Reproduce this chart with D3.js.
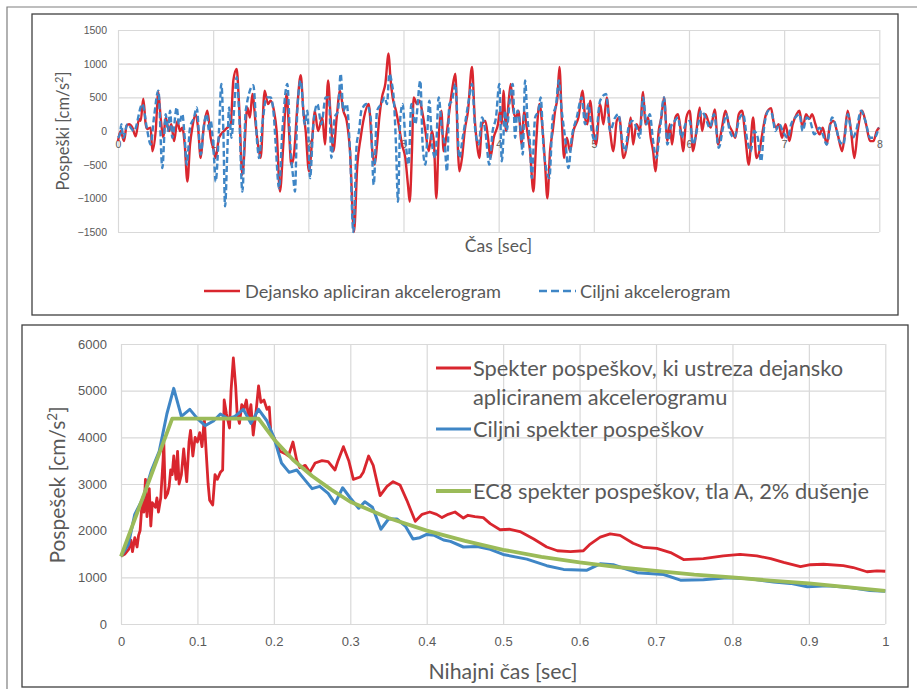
<!DOCTYPE html>
<html>
<head>
<meta charset="utf-8">
<script src="https://d3js.org/d3.v7.min.js"></script>
<style>
  body { margin: 0; background: #fff; }
  svg { display: block; font-family: Lato, "Open Sans", sans-serif; }
  .grid line { stroke: #d9d9d9; stroke-width: 1.2; }
  .grid .domain { display: none; }
  .ticks .domain, .ticks line { display: none; }
  .ticks text { fill: #595959; }
</style>
</head>
<body>
<svg id="chart" width="917" height="689"></svg>
<script>
// time axis / acceleration axis of the upper chart
var timeTicks = [0, 1, 2, 3, 4, 5, 6, 7, 8];
var accTicks = [-1500, -1000, -500, 0, 500, 1000, 1500];

// actually applied accelerogram [t, a] (peaks and troughs)
var actualAcc = [[0,-150],[0.028,0],[0.063,-150],[0.091,80],[0.116,100],[0.151,50],[0.186,-80],[0.221,180],[0.238,150],[0.266,480],[0.291,100],[0.308,30],[0.343,50],[0.361,-300],[0.396,0],[0.424,580],[0.448,200],[0.476,-100],[0.501,200],[0.536,0],[0.560,100],[0.589,-150],[0.624,150],[0.652,0],[0.676,50],[0.701,-200],[0.729,-750],[0.757,-200],[0.781,50],[0.816,250],[0.841,50],[0.869,-400],[0.897,0],[0.939,300],[0.974,-100],[1.009,-300],[1.026,-400],[1.061,-100],[1.114,0],[1.149,50],[1.184,100],[1.212,750],[1.247,920],[1.272,400],[1.307,-650],
  [1.359,350],[1.387,200],[1.412,550],[1.447,100],[1.471,-200],[1.499,-400],[1.541,600],[1.576,400],[1.604,450],[1.639,300],[1.667,0],[1.702,-900],[1.737,-200],[1.772,550],[1.797,0],[1.821,-500],[1.849,-350],[1.884,350],[1.920,830],[1.948,300],[1.972,0],[2.007,-600],[2.042,-100],[2.067,300],[2.102,0],[2.147,200],[2.175,-200],[2.207,750],[2.235,200],[2.263,-300],[2.298,200],[2.333,600],[2.368,300],[2.403,150],[2.438,-300],[2.480,-1500],[2.515,-500],[2.550,-100],[2.585,200],[2.634,400],[2.673,-300],
  [2.697,-500],[2.722,-200],[2.746,200],[2.774,500],[2.809,700],[2.844,1150],[2.862,800],[2.886,500],[2.921,300],[2.949,100],[2.984,-200],[3.019,-400],[3.047,-800],[3.065,-1050],[3.089,-300],[3.107,500],[3.142,400],[3.170,450],[3.195,300],[3.230,0],[3.265,-300],[3.300,0],[3.321,-200],[3.345,-1000],[3.370,-100],[3.398,300],[3.422,-300],[3.457,0],[3.482,300],[3.510,600],[3.545,850],[3.573,-300],[3.587,-600],[3.615,-400],[3.643,0],[3.678,300],[3.720,950],[3.748,200],[3.773,-200],[3.797,-400],[3.825,100],[3.860,150],[3.888,-100],[3.913,-400],[3.948,-100],[3.993,100],
  [4.015,300],[4.033,100],[4.050,600],[4.078,0],[4.103,400],[4.127,700],[4.155,300],[4.183,200],[4.208,300],[4.243,-200],[4.267,300],[4.295,50],[4.330,-300],[4.365,-900],[4.393,-200],[4.428,400],[4.463,0],[4.488,-500],[4.512,-1000],[4.540,-300],[4.568,0],[4.593,300],[4.618,500],[4.639,950],[4.663,200],[4.688,-400],[4.716,-100],[4.751,-300],[4.786,0],[4.838,200],[4.884,600],[4.908,200],[4.933,100],[4.961,450],[4.996,0],[5.024,-200],[5.066,400],[5.101,100],[5.136,500],[5.171,0],[5.206,-300],[5.241,150],[5.269,200],[5.311,-400],
  [5.360,-100],[5.388,200],[5.413,-200],[5.448,100],[5.483,0],[5.518,580],[5.542,100],[5.570,200],[5.598,-100],[5.623,-300],[5.647,-600],[5.682,0],[5.710,200],[5.738,500],[5.773,-150],[5.798,100],[5.822,-200],[5.857,200],[5.885,250],[5.914,0],[5.938,-300],[5.973,200],[6.008,300],[6.043,-300],[6.078,0],[6.113,350],[6.138,0],[6.173,250],[6.201,150],[6.229,50],[6.271,320],[6.306,-200],[6.341,0],[6.383,300],[6.418,100],[6.453,0],[6.488,-100],[6.523,250],[6.558,300],[6.593,-100],[6.628,-500],[6.674,200],[6.709,-400],
  [6.740,-300],[6.775,0],[6.810,250],[6.863,340],[6.887,150],[6.915,50],[6.943,100],[6.978,-100],[7.013,100],[7.055,-150],[7.090,100],[7.132,250],[7.160,300],[7.195,50],[7.230,250],[7.266,180],[7.294,250],[7.329,100],[7.371,-50],[7.406,50],[7.448,-200],[7.483,100],[7.518,150],[7.563,-50],[7.609,-300],[7.633,-100],[7.668,300],[7.703,0],[7.738,-400],[7.773,0],[7.819,300],[7.861,100],[7.903,-150],[7.938,-150],[7.973,0],[8,50]];

// target accelerogram [t, a]
var targetAcc = [[0,-100],[0.020,-50],[0.035,100],[0.056,-100],[0.098,100],[0.168,0],[0.256,400],[0.308,0],[0.343,-200],[0.378,200],[0.424,600],[0.466,-550],[0.501,250],[0.526,0],[0.547,300],[0.571,-100],[0.617,350],[0.641,100],[0.676,250],[0.701,-100],[0.722,-500],[0.757,50],[0.799,200],[0.827,350],[0.869,-350],[0.904,100],[0.932,250],[0.957,0],[0.974,150],[1.009,-400],[1.026,-750],[1.061,0],[1.086,700],[1.107,0],[1.125,-1120],[1.149,-300],[1.167,350],[1.191,-100],[1.219,300],[1.247,800],[1.272,300],[1.307,-900],
  [1.342,300],[1.422,680],[1.464,-200],[1.482,-400],[1.517,100],[1.562,500],[1.604,500],[1.639,200],[1.657,-200],[1.692,-850],[1.727,0],[1.779,700],[1.814,-300],[1.842,-700],[1.860,-900],[1.884,300],[1.920,750],[1.962,100],[1.990,300],[2.018,-700],[2.053,100],[2.095,400],[2.137,100],[2.182,500],[2.217,500],[2.242,-400],[2.277,200],[2.312,300],[2.340,850],[2.368,300],[2.403,400],[2.438,-300],[2.473,-1500],[2.508,-200],[2.533,0],[2.557,300],[2.613,400],[2.655,200],
  [2.687,-800],[2.722,300],[2.767,400],[2.802,500],[2.827,400],[2.851,850],[2.879,700],[2.897,500],[2.921,-200],[2.942,-1050],[2.967,200],[2.991,400],[3.019,-100],[3.054,-500],[3.082,400],[3.124,100],[3.177,750],[3.201,-200],[3.230,-500],[3.272,450],[3.300,-200],[3.335,-400],[3.370,500],[3.405,0],[3.433,-200],[3.457,-600],[3.482,400],[3.510,450],[3.545,700],[3.587,-400],[3.622,-100],[3.657,200],[3.685,450],[3.720,700],[3.755,0],[3.790,-200],[3.825,200],[3.860,0],[3.902,-500],[3.937,0],[3.972,200],[4.007,700],
  [4.033,-450],[4.068,300],[4.085,0],[4.113,400],[4.148,700],[4.173,-100],[4.197,300],[4.232,0],[4.253,-350],[4.278,750],[4.302,200],[4.330,-200],[4.348,-700],[4.383,200],[4.418,300],[4.442,500],[4.470,-200],[4.505,-600],[4.533,-700],[4.568,200],[4.604,400],[4.632,750],[4.663,300],[4.698,-100],[4.733,-550],[4.768,-100],[4.821,200],[4.873,500],[4.908,100],[4.943,400],[4.978,0],[5.013,-150],[5.066,450],[5.129,550],[5.171,0],[5.224,200],[5.259,250],[5.294,-100],[5.329,-300],[5.364,50],
  [5.402,150],[5.448,50],[5.483,-100],[5.518,500],[5.553,100],[5.588,250],[5.623,-150],[5.658,-400],[5.693,0],[5.738,500],[5.773,-200],[5.808,50],[5.850,150],[5.885,200],[5.921,-100],[5.963,100],[6.008,150],[6.043,-200],[6.096,100],[6.131,300],[6.173,200],[6.218,50],[6.264,250],[6.313,-250],[6.358,50],[6.393,250],[6.428,0],[6.474,-100],[6.534,200],[6.569,250],[6.614,-150],[6.649,-300],[6.684,0],
  [6.723,-100],[6.758,-450],[6.793,100],[6.838,300],[6.873,250],[6.908,0],[6.950,100],[6.985,0],[7.038,-100],[7.073,100],[7.118,200],[7.160,250],[7.195,0],[7.237,200],[7.273,150],[7.318,-50],[7.371,50],[7.406,-50],[7.448,-200],[7.504,200],[7.539,100],[7.581,-150],[7.623,-200],[7.668,250],[7.721,-100],[7.756,0],[7.808,300],[7.854,150],[7.903,-100],[7.949,-100],[7.994,50]];

// period axis / spectral acceleration axis of the lower chart
var periodTicks = [0, 0.1, 0.2, 0.3, 0.4, 0.5, 0.6, 0.7, 0.8, 0.9, 1];
var specTicks = [0, 1000, 2000, 3000, 4000, 5000, 6000];

// spectrum of the applied accelerogram [T, Sa]
var actualSpec = [[0,1450],[0.005,1500],[0.010,1600],[0.013,1800],[0.015,1550],[0.018,1850],[0.021,1650],[0.023,1900],[0.025,2000],[0.028,2700],[0.030,2400],[0.032,3100],[0.034,2300],[0.037,2900],[0.039,2100],[0.041,2600],[0.045,2500],[0.047,2700],[0.049,2400],[0.052,2700],[0.055,3500],[0.056,3900],[0.058,2700],[0.061,2800],[0.063,2950],[0.065,3300],[0.067,3200],[0.069,3600],[0.072,3100],[0.074,3700],[0.076,3000],[0.079,3200],[0.082,3750],[0.086,3050],[0.089,3900],[0.091,4150],[0.094,3600],[0.097,4000],[0.100,3900],[0.103,4100],[0.106,3800],[0.109,4400],[0.111,3800],[0.114,3000],[0.116,2650],[0.120,2550],[0.123,3200],[0.126,3100],[0.130,3250],[0.133,3300],[0.135,4800],[0.138,4500],[0.142,4200],[0.144,5000],[0.147,5700],[0.150,5100],[0.152,4500],[0.155,4300],[0.158,4700],[0.161,4600],[0.164,4800],[0.167,4400],[0.170,4700],[0.173,4050],[0.177,4600],[0.180,5100],[0.183,4750],[0.187,4800],[0.191,4600],[0.194,4650],[0.196,4100],[0.200,4000],
  [0.208,3700],[0.215,3650],[0.219,3600],[0.225,3900],[0.230,3500],[0.234,3350],[0.241,3400],[0.247,3250],[0.254,3450],[0.263,3500],[0.271,3480],[0.280,3300],[0.284,3500],[0.291,3800],[0.298,3500],[0.304,3100],[0.313,3150],[0.317,3250],[0.324,3600],[0.330,3400],[0.339,2750],[0.348,2950],[0.356,3050],[0.365,2980],[0.374,2650],[0.385,2200],[0.394,2350],[0.404,2400],[0.413,2350],[0.420,2280],[0.428,2350],[0.437,2400],[0.448,2270],[0.454,2330],[0.463,2300],[0.474,2280],[0.483,2150],[0.496,2020],[0.509,2030],[0.522,1980],[0.540,1820],[0.557,1650],[0.571,1570],[0.588,1550],[0.605,1570],[0.613,1700],[0.627,1860],[0.640,1930],[0.653,1900],[0.670,1730],[0.684,1640],[0.701,1620],[0.719,1530],[0.736,1380],[0.762,1400],[0.788,1460],[0.810,1490],[0.832,1460],[0.850,1400],[0.867,1320],[0.889,1230],[0.902,1270],[0.919,1280],[0.945,1250],[0.958,1210],[0.976,1120],[0.989,1140],[1,1130]];

// target spectrum [T, Sa]
var targetSpec = [[0,1450],[0.0096,1700],[0.018,2350],[0.029,2700],[0.040,3300],[0.050,3700],[0.060,4500],[0.069,5050],[0.079,4450],[0.090,4600],[0.100,4400],[0.110,4250],[0.121,4350],[0.130,4500],[0.140,4400],[0.149,4450],[0.160,4600],[0.170,4300],[0.180,4600],[0.191,4350],[0.200,4000],[0.210,3450],[0.220,3250],[0.230,3300],[0.240,3100],[0.250,2900],[0.260,2950],[0.271,2800],[0.280,2580],[0.290,2920],[0.300,2700],[0.311,2480],[0.319,2620],[0.329,2500],[0.340,2030],[0.350,2250],[0.361,2250],[0.372,2100],[0.382,1820],[0.391,1850],[0.400,1920],[0.410,1900],[0.422,1800],[0.431,1770],[0.448,1650],[0.466,1660],[0.483,1600],[0.500,1490],[0.531,1390],[0.557,1250],[0.579,1170],[0.609,1150],[0.627,1290],[0.644,1270],[0.675,1100],[0.710,1060],[0.732,940],[0.762,950],[0.793,990],[0.823,970],[0.854,900],[0.876,870],[0.898,800],[0.924,820],[0.954,780],[0.980,720],[1,700]];

// EC8 spectrum, ground type A, 2% damping [T, Sa]
var ec8Spec = [[0,1450],[0.067,4400],[0.18,4400],[0.2,3960],[0.225,3520],[0.25,3170],[0.275,2880],[0.3,2620],[0.35,2270],[0.4,2000],[0.45,1780],[0.5,1590],[0.55,1440],[0.6,1320],[0.65,1220],[0.7,1140],[0.75,1060],[0.8,1000],[0.85,930],[0.9,870],[0.95,790],[1,710]];

var red = '#d9262e', blue = '#3f86c6', green = '#9bbb59', textGray = '#595959';

var svg = d3.select('#chart');

// page frame lines
svg.append('path').attr('d', 'M7,689V7H917').attr('fill', 'none').attr('stroke', '#7f7f7f').attr('stroke-width', 1.2);

//---------------- upper chart: accelerograms ----------------
svg.append('rect').attr('x', 32).attr('y', 14).attr('width', 866).attr('height', 301)
  .attr('fill', '#fff').attr('stroke', '#404040').attr('stroke-width', 1.3);

var x1 = d3.scaleLinear().domain([0, 8]).range([118, 879.3]);
var y1 = d3.scaleLinear().domain([-1500, 1500]).range([232, 30]);

svg.append('g').attr('class', 'grid').attr('transform', 'translate(118,0)')
  .call(d3.axisLeft(y1).tickValues(accTicks).tickSize(-761.3).tickFormat(''));
svg.append('g').attr('class', 'grid').attr('transform', 'translate(0,232)')
  .call(d3.axisBottom(x1).tickValues(timeTicks).tickSize(-202).tickFormat(''));

svg.append('g').attr('class', 'ticks').attr('transform', 'translate(118,0)')
  .call(d3.axisLeft(y1).tickValues(accTicks).tickSize(0).tickPadding(11).tickFormat(d3.format('d')))
  .selectAll('text').style('font-size', '10.5px');
svg.append('g').attr('class', 'ticks').attr('transform', 'translate(0,' + y1(0) + ')')
  .call(d3.axisBottom(x1).tickValues(timeTicks).tickSize(0).tickPadding(10))
  .selectAll('text').style('font-size', '10.5px').attr('fill', '#808080');

var accLine = d3.line().x(function(d){ return x1(d[0]); }).y(function(d){ return y1(d[1]); })
  .curve(d3.curveMonotoneX);

svg.append('path').datum(actualAcc).attr('d', accLine)
  .attr('fill', 'none').attr('stroke', red).attr('stroke-width', 2.4).attr('stroke-linejoin', 'round');
svg.append('path').datum(targetAcc).attr('d', accLine)
  .attr('fill', 'none').attr('stroke', blue).attr('stroke-width', 2.4).attr('stroke-dasharray', '6,3');

var yt1 = svg.append('text').attr('transform', 'translate(69,131) rotate(-90)')
  .attr('text-anchor', 'middle').attr('fill', textGray).style('font-size', '16.5px');
yt1.append('tspan').text('Pospeški [cm/s');
yt1.append('tspan').attr('dy', -6).style('font-size', '11px').text('2');
yt1.append('tspan').attr('dy', 6).text(']');

svg.append('text').attr('x', 498.5).attr('y', 252).attr('text-anchor', 'middle')
  .attr('fill', textGray).style('font-size', '17.5px').text('Čas [sec]');

// legend
svg.append('line').attr('x1', 204).attr('x2', 240).attr('y1', 291).attr('y2', 291)
  .attr('stroke', red).attr('stroke-width', 2.4);
svg.append('text').attr('x', 245).attr('y', 297.5).attr('fill', textGray).style('font-size', '18.2px')
  .text('Dejansko apliciran akcelerogram');
svg.append('line').attr('x1', 539).attr('x2', 576).attr('y1', 291).attr('y2', 291)
  .attr('stroke', blue).attr('stroke-width', 2.4).attr('stroke-dasharray', '8,4');
svg.append('text').attr('x', 580).attr('y', 297.5).attr('fill', textGray).style('font-size', '18.2px')
  .text('Ciljni akcelerogram');

//---------------- lower chart: spectra ----------------
svg.append('rect').attr('x', 22).attr('y', 325).attr('width', 886).attr('height', 362)
  .attr('fill', '#fff').attr('stroke', '#404040').attr('stroke-width', 1.3);

var x2 = d3.scaleLinear().domain([0, 1]).range([121, 885.3]);
var y2 = d3.scaleLinear().domain([0, 6000]).range([624, 344]);

svg.append('g').attr('class', 'grid').attr('transform', 'translate(121,0)')
  .call(d3.axisLeft(y2).tickValues(specTicks).tickSize(-764.3).tickFormat(''));
svg.append('g').attr('class', 'grid').attr('transform', 'translate(0,624)')
  .call(d3.axisBottom(x2).tickValues(periodTicks).tickSize(-280).tickFormat(''));

svg.append('g').attr('class', 'ticks').attr('transform', 'translate(121,0)')
  .call(d3.axisLeft(y2).tickValues(specTicks).tickSize(0).tickPadding(14).tickFormat(d3.format('d')))
  .selectAll('text').style('font-size', '13px');
svg.append('g').attr('class', 'ticks').attr('transform', 'translate(0,624)')
  .call(d3.axisBottom(x2).tickValues(periodTicks).tickSize(0).tickPadding(13).tickFormat(d3.format('')))
  .selectAll('text').style('font-size', '13px');

var specLine = d3.line().x(function(d){ return x2(d[0]); }).y(function(d){ return y2(d[1]); });

svg.append('path').datum(actualSpec).attr('d', specLine)
  .attr('fill', 'none').attr('stroke', red).attr('stroke-width', 2.8).attr('stroke-linejoin', 'round');
svg.append('path').datum(targetSpec).attr('d', specLine)
  .attr('fill', 'none').attr('stroke', blue).attr('stroke-width', 3).attr('stroke-linejoin', 'round');
svg.append('path').datum(ec8Spec).attr('d', specLine)
  .attr('fill', 'none').attr('stroke', green).attr('stroke-width', 3.8).attr('stroke-linejoin', 'round');

var yt2 = svg.append('text').attr('transform', 'translate(65,485) rotate(-90)')
  .attr('text-anchor', 'middle').attr('fill', textGray).style('font-size', '21px');
yt2.append('tspan').text('Pospešek [cm/s');
yt2.append('tspan').attr('dy', -8).style('font-size', '13.5px').text('2');
yt2.append('tspan').attr('dy', 8).text(']');

svg.append('text').attr('x', 503).attr('y', 679).attr('text-anchor', 'middle')
  .attr('fill', textGray).style('font-size', '21.3px').text('Nihajni čas [sec]');

// legend
var legend = [
  {color: red, y: 368, lines: ['Spekter pospeškov, ki ustreza dejansko', 'apliciranem akcelerogramu']},
  {color: blue, y: 429, lines: ['Ciljni spekter pospeškov']},
  {color: green, y: 491, lines: ['EC8 spekter pospeškov, tla A, 2% dušenje']}
];
legend.forEach(function(l){
  svg.append('line').attr('x1', 436).attr('x2', 471).attr('y1', l.y).attr('y2', l.y)
    .attr('stroke', l.color).attr('stroke-width', l.color === green ? 3.8 : 3);
  l.lines.forEach(function(s, i){
    svg.append('text').attr('x', 473).attr('y', l.y + 8 + i * 29)
      .attr('fill', textGray).style('font-size', '21.8px').text(s);
  });
});
</script>
</body>
</html>
